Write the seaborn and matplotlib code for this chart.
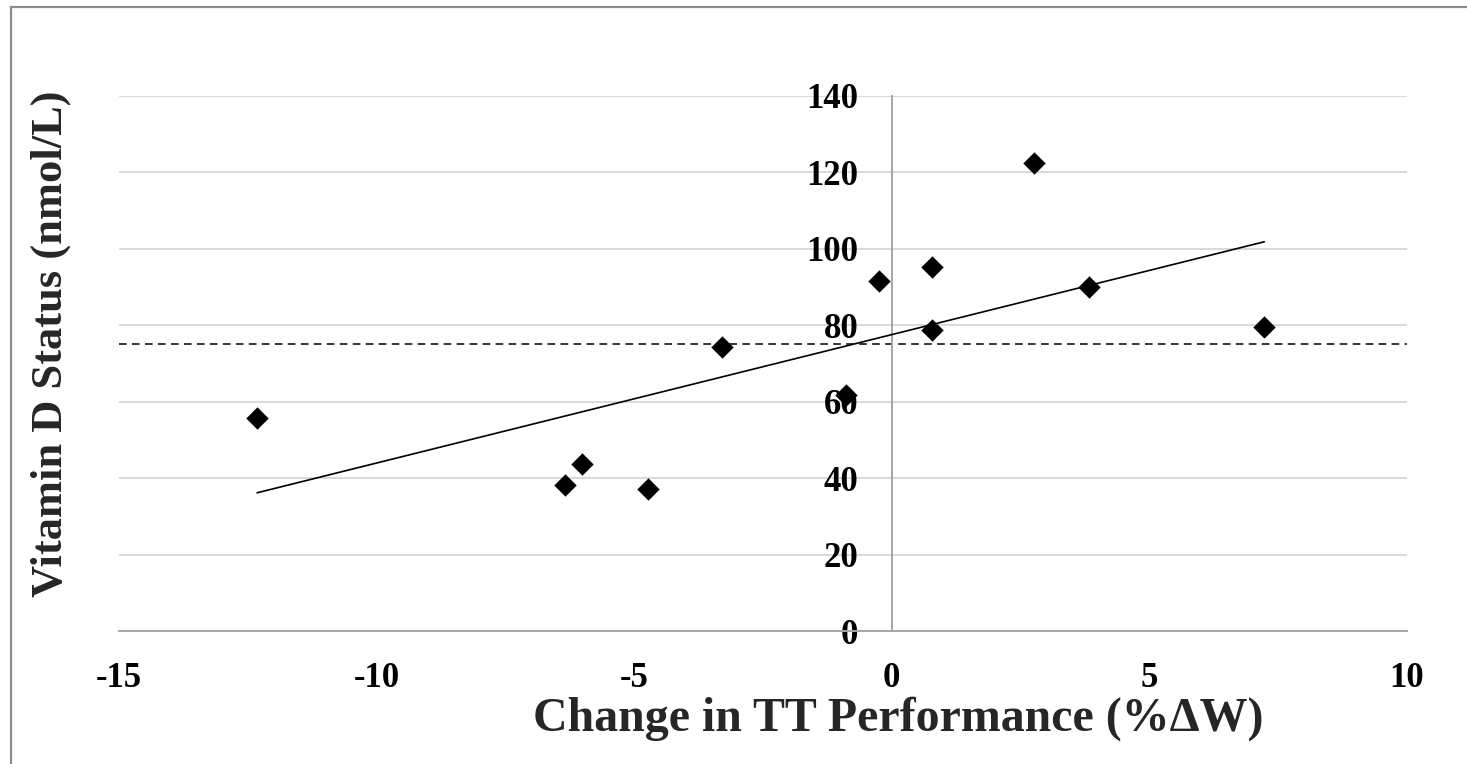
import matplotlib
matplotlib.use("Agg")
import matplotlib.pyplot as plt
from matplotlib.patches import Rectangle
import seaborn as sns
import pandas as pd

# Change in time-trial performance (%ΔW) vs vitamin D status (nmol/L)
tt_change = [-12.32, -6.34, -6.01, -4.73, -3.30, -0.89, -0.25, 0.78, 0.78, 2.76, 3.83, 7.23]
vit_d = [55.7, 38.2, 43.7, 37.2, 74.3, 61.8, 91.6, 95.3, 78.8, 122.5, 90.0, 79.6]
sufficiency_threshold = 75
x_ticks = [-15, -10, -5, 0, 5, 10]
y_ticks = [0, 20, 40, 60, 80, 100, 120, 140]

df = pd.DataFrame({"tt": tt_change, "vitd": vit_d})

sns.set_theme(style="white")
plt.rcParams["font.family"] = ["Liberation Serif", "DejaVu Serif"]
plt.rcParams["font.weight"] = "bold"
plt.rcParams["axes.unicode_minus"] = False

fig = plt.figure(figsize=(14.67, 7.64), dpi=100)
ax = fig.add_axes([119 / 1467, 1 - 631 / 764, 1288 / 1467, 535 / 764])

# outer chart frame
fig.add_artist(Rectangle((11 / 1467, -0.05), 1.2, 1 - 7 / 764 + 0.05,
                         transform=fig.transFigure, fill=False,
                         edgecolor="#8c8c8c", linewidth=1.6, zorder=0))

ax.set_xlim(-15, 10)
ax.set_ylim(0, 140)
ax.set_xticks(x_ticks)
ax.set_yticks(y_ticks)
ax.yaxis.grid(True, color="#d9d9d9", linewidth=1.4)
ax.xaxis.grid(False)
ax.set_axisbelow(True)

ax.axhline(sufficiency_threshold, color="black", linestyle=(0, (5, 3.5)),
           linewidth=1.1, zorder=2)

sns.regplot(data=df, x="tt", y="vitd", scatter=False, ci=None, ax=ax,
            line_kws={"color": "black", "linewidth": 1.2, "zorder": 3})
sns.scatterplot(data=df, x="tt", y="vitd", marker="D", s=130, color="black",
                edgecolor="black", linewidth=0, ax=ax, zorder=4)

for side in ["top", "right"]:
    ax.spines[side].set_visible(False)
ax.spines["left"].set_position(("data", 0))
ax.spines["left"].set_color("#a6a6a6")
ax.spines["left"].set_linewidth(1.4)
ax.spines["bottom"].set_color("#a6a6a6")
ax.spines["bottom"].set_linewidth(1.4)

ax.tick_params(axis="both", length=0, labelsize=25, colors="black")
ax.tick_params(axis="y", pad=24)
ax.tick_params(axis="x", pad=22)
for lbl in ax.get_xticklabels() + ax.get_yticklabels():
    lbl.set_fontweight("bold")

ax.set_xlabel("Change in TT Performance (%ΔW)", fontsize=34.5, fontweight="bold")
ax.set_ylabel("Vitamin D Status (nmol/L)", fontsize=32, fontweight="bold")
ax.xaxis.set_label_coords(0.6048, -0.1645)
ax.xaxis.label.set_va("center")
ax.yaxis.set_label_coords(-0.0528, 0.5364)
ax.yaxis.label.set_va("center")

fig.savefig("out.png", dpi=100)
